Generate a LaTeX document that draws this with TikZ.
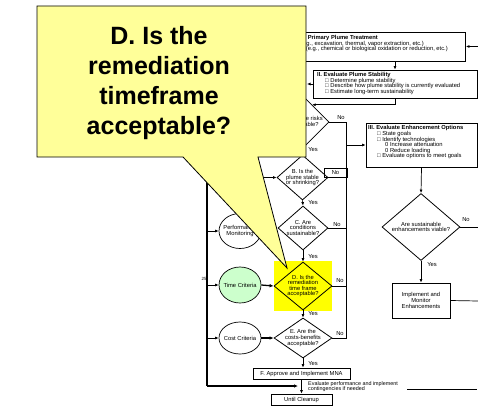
\documentclass[tikz,border=0pt]{standalone}
\usepackage{fontspec}
\setmainfont{Liberation Sans}
\usetikzlibrary{shapes.geometric,arrows.meta}

\definecolor{calloutfill}{HTML}{FFFF99}
\definecolor{hlyellow}{HTML}{FFFF00}
\definecolor{critgreen}{HTML}{CCFFCC}

\begin{document}
\begin{tikzpicture}[x=1pt,y=-1pt,
  txt/.style={font=\fontsize{5.8}{5.6}\selectfont, inner sep=0pt},
  ctxt/.style={txt, align=center},
  ltxt/.style={txt, align=left},
  box/.style={draw, line width=0.8pt, inner sep=0pt},
  dec/.style={draw, diamond, line width=0.8pt, inner sep=0pt},
  crit/.style={draw, ellipse, line width=0.7pt, inner sep=0pt, minimum width=42pt},
  flow/.style={line width=0.7pt, -{Latex[length=3.5pt,width=3pt]}},
  bold flow/.style={line width=1.3pt, -{Latex[length=4pt,width=3.5pt]}},
  link/.style={line width=0.7pt},
  bus/.style={line width=1.4pt},
  callout/.style={draw, line width=0.8pt, fill=calloutfill},
]
\useasboundingbox (0,0) rectangle (478,406);

% ---------- right column: treatment and stability boxes ----------
\node[box, minimum width=265pt, minimum height=29pt] (bI) at (333,46.5) {};
\node[txt, font=\fontsize{5.8}{5.6}\selectfont\bfseries, anchor=base east] (tI1) at (378,39.5) {I. Consider Primary Plume Treatment};
\node[txt, anchor=base east] (tI2) at (424,45.5) {□ Removal (e.g., excavation, thermal, vapor extraction, etc.)};
\node[txt, anchor=base east] (tI3) at (448,51) {□ Destruction (e.g., chemical or biological oxidation or reduction, etc.)};

\node[box, minimum width=164pt, minimum height=28pt] (bII) at (395,84) {};
\node[ltxt, anchor=north west] (tII) at (317,72) {\textbf{II. Evaluate Plume Stability}\\
  \hspace*{8pt}□ Determine plume stability\\
  \hspace*{8pt}□ Describe how plume stability is currently evaluated\\
  \hspace*{8pt}□ Estimate long-term sustainability};

\node[box, minimum width=111pt, minimum height=44pt] (bIII) at (421.5,145) {};
\node[ltxt, anchor=north west] (tIII) at (368,125.5) {\textbf{III. Evaluate Enhancement Options}\\
  \hspace*{9pt}□ State goals\\
  \hspace*{9pt}□ Identify technologies\\
  \hspace*{17pt}0 Increase attenuation\\
  \hspace*{17pt}0 Reduce loading\\
  \hspace*{9pt}□ Evaluate options to meet goals};

\node[dec, minimum width=78pt, minimum height=67pt,
  label={[ctxt]center:{Are sustainable\\enhancements viable?}}] (dS) at (421,227) {};
\node[box, minimum width=58pt, minimum height=35pt, ctxt] (bImp) at (421,300.5) {Implement and\\Monitor\\Enhancements};

% ---------- decision column ----------
\node[fill=hlyellow, minimum width=58pt, minimum height=50pt, inner sep=0pt] (hlD) at (303,286) {};

\node[dec, minimum width=52pt, minimum height=52pt,
  label={[ctxt]center:{A. Are the risks\\acceptable?}}] (dA) at (303,122) {};
\node[dec, minimum width=51pt, minimum height=45pt,
  label={[ctxt]center:{B. Is the\\plume stable\\or shrinking?}}] (dB) at (302.5,177.5) {};
\node[dec, minimum width=50pt, minimum height=44pt,
  label={[ctxt]center:{C. Are\\conditions\\sustainable?}}] (dC) at (303,228) {};
\node[dec, minimum width=58pt, minimum height=48pt,
  label={[ctxt]center:{D. Is the\\remediation\\time frame\\acceptable?}}] (dD) at (303,286) {};
\node[dec, minimum width=58pt, minimum height=40pt,
  label={[ctxt]center:{E. Are the\\costs-benefits\\acceptable?}}] (dE) at (303,338) {};

\node[box, minimum width=97pt, minimum height=11pt, txt] (bF) at (301.5,373.5) {F. Approve and Implement MNA};
\node[box, minimum width=61pt, minimum height=11pt, txt] (bUC) at (301.5,399.5) {Until Cleanup};
\node[ltxt, font=\fontsize{5.4}{5.8}\selectfont, anchor=west] (tEval) at (308,386.5) {Evaluate performance and implement\\contingencies if needed};

\node[box, line width=1pt, minimum width=23pt, minimum height=9pt, txt] (nB) at (335.5,172.5) {No};

% ---------- criteria ellipses ----------
\node[crit, minimum height=35pt, label={[ctxt]center:{Performance\\Monitoring}}] (ePM) at (240,231) {};
\node[crit, minimum height=36pt, fill=critgreen, label={[ctxt]center:{Time Criteria}}] (eTC) at (240,285) {};
\node[crit, minimum height=32pt, label={[ctxt]center:{Cost Criteria}}] (eCC) at (240,338) {};
\node[txt, font=\fontsize{4.5}{5}\selectfont] (n25) at (204,278.5) {25};

% ---------- free ends ----------
\coordinate (inI) at (478,46.5);
\coordinate (outII) at (307,84);
\coordinate (stubII) at (478,84);
\coordinate (busT) at (346.5,122);
\coordinate (busB) at (346.5,338);
\coordinate (outS) at (478,227);
\coordinate (outImp) at (478,301);
\coordinate (feedB) at (245,177.5);
\coordinate (lbT) at (207,170);
\coordinate (lbB) at (207,386);
\coordinate (lbE) at (298,386);
\coordinate (evA) at (407,389);
\coordinate (evB) at (477,389);

% ---------- connectors ----------
\draw[flow] (inI) -- (bI.east);
\draw[flow] (bI.south -| bII.north) -- (bII.north);
\draw[flow] (bII.west) -- (outII);
\draw[link] (bII.east) -- (stubII);
\draw[flow] (bII.south) |- (dA.62);

\draw[flow] (dA.south) -- (dB.north);
\draw[flow] (dB.south) -- (dC.north);
\draw[flow] (dC.south) -- (dD.north);
\draw[flow] (dD.south) -- (dE.north);
\draw[flow] (dE.south) -- (bF.north -| dE.south);
\draw[flow] (bF.south) -- (bUC.north);

\draw[link] (dA.east) -- (busT) -- (busB);
\draw[link] (dB.east) -- (dB.east -| busT);
\draw[link] (dC.east) -- (dC.east -| busT);
\draw[link] (dD.east) -- (dD.east -| busT);
\draw[link] (dE.east) -- (busB);
\draw[flow] (bIII.west -| busT) -- (bIII.west);

\draw[flow] (bIII.south) -- (dS.north);
\draw[flow] (dS.south) -- (bImp.north);
\draw[link] (dS.east) -- (outS);
\draw[link] (bImp.east) -- (outImp);

\draw[flow] (feedB) -- (dB.west);
\draw[bus] (lbT) -- (lbB);
\draw[bus, -{Latex[length=4pt,width=3.5pt]}] (lbB) -- (lbE);
\draw[flow] (ePM.west -| lbT) -- (ePM.west);
\draw[flow] (eTC.west -| lbT) -- (eTC.west);
\draw[flow] (eCC.west -| lbT) -- (eCC.west);
\draw[flow] (ePM.east) -- (dC.west);
\draw[bold flow] (eTC.east) -- (dD.west);
\draw[bold flow] (eCC.east) -- (dE.west);
\draw[link] (evA) -- (evB);

% ---------- branch labels ----------
\node[txt] (yA) at (313,150) {Yes};
\node[txt] (yB) at (313,202.5) {Yes};
\node[txt] (yC) at (313,257) {Yes};
\node[txt] (yD) at (313,313.5) {Yes};
\node[txt] (yE) at (313,363.5) {Yes};
\node[txt] (yS) at (432,264.5) {Yes};
\node[txt] (noA) at (341,118) {No};
\node[txt] (noC) at (337,224.5) {No};
\node[txt] (noD) at (340,281) {No};
\node[txt] (noE) at (340,333.5) {No};
\node[txt] (noS) at (466,220) {No};

% ---------- callout ----------
\draw[callout] (37,6) -- (306,6) -- (306,157) -- (258,157) -- (287,268)
  -- (183,157) -- (37,157) -- cycle;
\node[font=\fontsize{25}{30}\selectfont\bfseries, align=center, inner sep=0pt] (cT) at (159,83)
  {D. Is the\\remediation\\timeframe\\acceptable?};
\end{tikzpicture}
\end{document}
